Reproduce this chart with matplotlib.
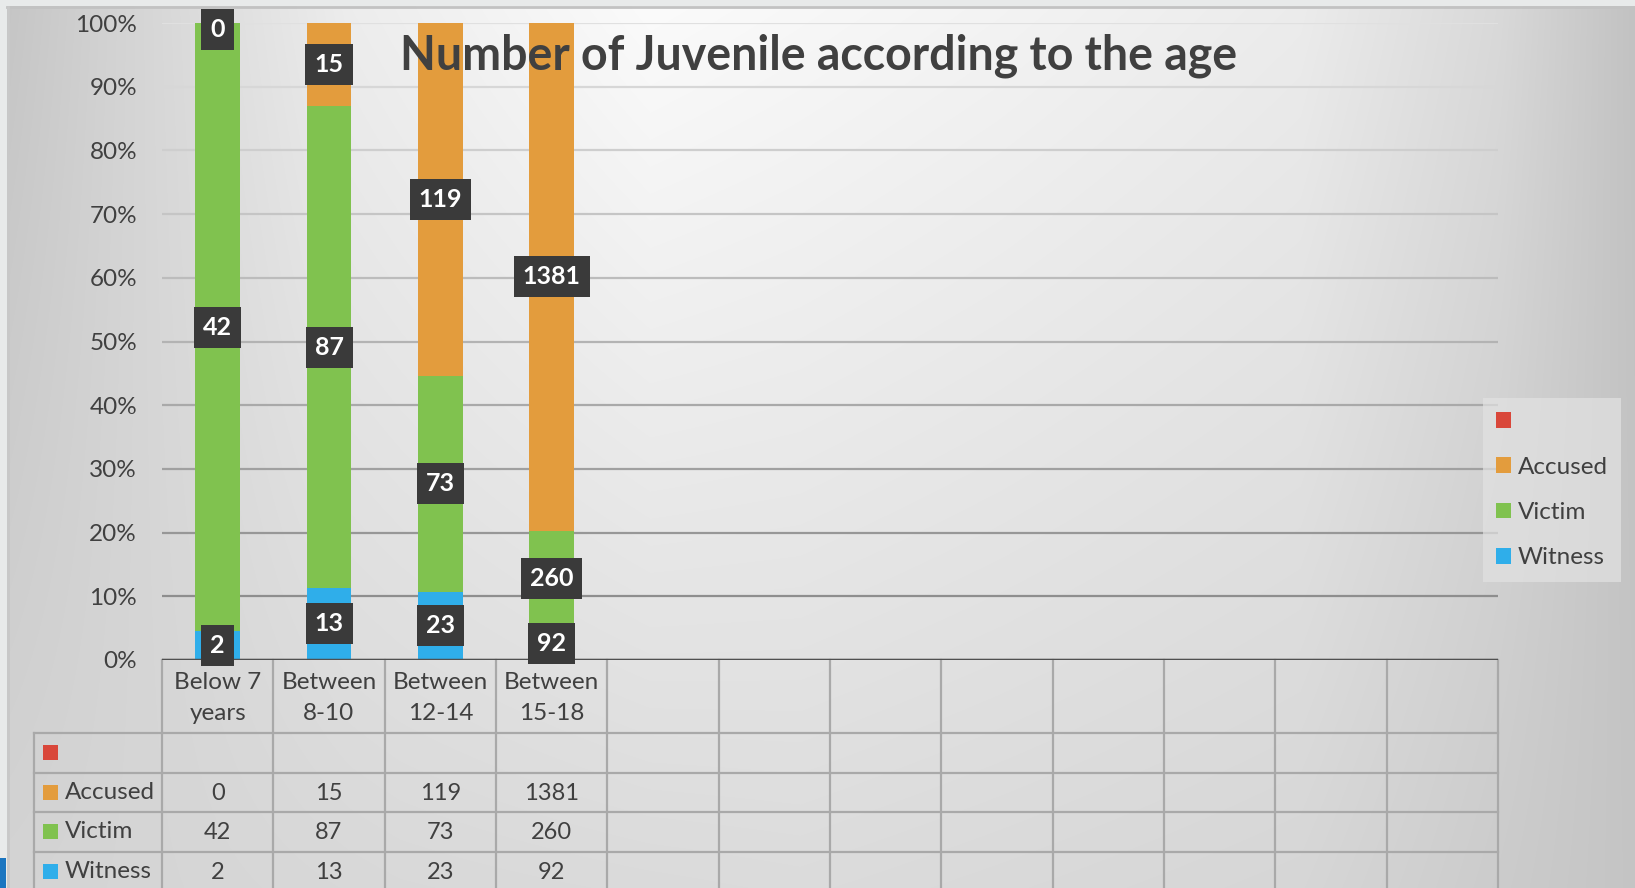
import numpy as np
import matplotlib.pyplot as plt
import matplotlib.transforms as mtransforms
from matplotlib.patches import Patch, Rectangle

plt.rcParams["font.family"] = ["Lato", "DejaVu Sans"]

# ---- data ----
title = "Number of Juvenile according to the age"
categories = ["Below 7\nyears", "Between\n8-10", "Between\n12-14", "Between\n15-18"]
n_slots = 12  # the chart keeps 12 category columns, only 4 are filled
series_names = ["", "Accused", "Victim", "Witness"]
unnamed = [None, None, None, None]  # red series, no values
accused = [0, 15, 119, 1381]
victim = [42, 87, 73, 260]
witness = [2, 13, 23, 92]
y_ticks = [0, 10, 20, 30, 40, 50, 60, 70, 80, 90, 100]

colors = ["#d9473a", "#e39c3d", "#80c24f", "#2faeea"]
series_values = [unnamed, accused, victim, witness]
text_color = "#404040"

W, H = 1635, 888
fig = plt.figure(figsize=(W / 100, H / 100), dpi=100)

# ---- background gradient ----
bg = fig.add_axes([0, 0, 1, 1], zorder=0)
bg.set_xlim(0, W)
bg.set_ylim(H, 0)
bg.axis("off")
xs = np.arange(W)
top_row = np.interp(xs, [0, 100, 350, 650, 1000, 1300, 1500, 1635],
                    [0.77, 0.82, 0.93, 0.985, 0.955, 0.925, 0.85, 0.76])
bot_row = np.interp(xs, [0, 400, 800, 1300, 1635], [0.83, 0.85, 0.86, 0.84, 0.77])
t = (np.arange(H) / H)[:, None]
shade = top_row[None, :] * (1 - t) + bot_row[None, :] * t
img = np.dstack([shade, shade, shade])
img[:7, :, :] = [0.91, 0.92, 0.92]
img[:, :7, :] = [0.91, 0.92, 0.92]
bg.imshow(img, extent=(0, W, H, 0), aspect="auto", interpolation="bilinear")
bg.plot([7, W], [7.5, 7.5], color="#c2c2c2", lw=2)
bg.plot([7.5, 7.5], [7, H], color="#c8c8c8", lw=2)
bg.add_patch(Rectangle((0, 858), 6, 30, facecolor="#1a75c0", edgecolor="none"))

# ---- main chart ----
ax_left, ax_top, ax_w, ax_h = 162, 23, 1336, 637
ax = fig.add_axes([ax_left / W, 1 - (ax_top + ax_h) / H, ax_w / W, ax_h / H], zorder=2)
ax.patch.set_alpha(0)
ax.set_xlim(-0.5, n_slots - 0.5)
ax.set_ylim(0, 1)
for s in ax.spines.values():
    s.set_visible(False)

for tick in y_ticks:
    f = tick / 100
    c = np.array([0.52, 0.52, 0.52]) * (1 - f) + np.array([0.88, 0.88, 0.88]) * f
    ax.axhline(f, color=c, lw=1.6, zorder=0)
ax.axhline(0, color="#505050", lw=2.5, zorder=3)

ax.set_xticks([])
ax.set_yticks([v / 100 for v in y_ticks], labels=[f"{v}%" for v in y_ticks])
ax.tick_params(axis="y", length=0, pad=18, labelsize=17.5, labelcolor=text_color)

totals = np.array(accused) + np.array(victim) + np.array(witness)
xpos = np.arange(len(categories))
bottom = np.zeros(len(categories))
label_box = dict(facecolor="#3a3a3a", edgecolor="none", boxstyle="square,pad=0.36")
for name, vals, col in reversed(list(zip(series_names, series_values, colors))):
    if vals[0] is None:
        continue
    share = np.array(vals) / totals
    ax.bar(xpos, share, 0.4, bottom=bottom, color=col, zorder=2)
    for i, v in enumerate(vals):
        yc = bottom[i] + share[i] / 2
        off = -5 if share[i] == 0 else 0
        ax.annotate(str(v), (i, yc), xytext=(0, off), textcoords="offset points",
                    ha="center", va="center", fontsize=18, fontweight="bold",
                    color="white", bbox=label_box, zorder=4)
    bottom += share

# ---- data table under the chart ----
tb = fig.add_axes([0, 0, 1, 1], zorder=1)
tb.patch.set_alpha(0)
tb.set_xlim(0, W)
tb.set_ylim(H, 0)
tb.axis("off")
mix = mtransforms.blended_transform_factory(ax.transData, tb.transData)

grid_c = "#a9a9a9"
table_left = 34
row_lines = [733, 773, 812, 852]
row_h = 39.5
for y in row_lines:
    tb.plot([table_left, ax_left + ax_w], [y, y], color=grid_c, lw=1.6)
for k in range(n_slots + 1):
    tb.plot([k - 0.5, k - 0.5], [ax_top + ax_h, H], color=grid_c, lw=1.6, transform=mix)
tb.plot([table_left, table_left], [row_lines[0], H], color=grid_c, lw=1.6)

for i, cat in enumerate(categories):
    tb.text(i, 698, cat, transform=mix, ha="center", va="center", fontsize=17.5,
            color=text_color, linespacing=1.6)

for r, (name, vals, col) in enumerate(zip(series_names, series_values, colors)):
    yc = row_lines[r] + row_h / 2
    tb.add_patch(Rectangle((43, yc - 7.5), 15, 15, facecolor=col, edgecolor="none"))
    tb.text(65, yc, name, ha="left", va="center", fontsize=17.5, color=text_color)
    for i, v in enumerate(vals):
        if v is None:
            continue
        tb.text(i, yc + 1, str(v), transform=mix, ha="center", va="center",
                fontsize=17, color=text_color)

# ---- legend ----
handles = [Patch(facecolor=c, edgecolor="none") for c in colors]
leg = fig.legend(handles, series_names, loc="upper left",
                 bbox_to_anchor=(1483 / W, 1 - 398 / H), frameon=True,
                 facecolor="#e2e2e2", edgecolor="none", framealpha=0.7,
                 fancybox=False, fontsize=17.5, handlelength=0.62,
                 handleheight=0.62, handletextpad=0.25, labelspacing=1.0,
                 borderpad=0.55, borderaxespad=0)
for txt in leg.get_texts():
    txt.set_color(text_color)

fig.text(819 / W, 1 - 56 / H, title, ha="center", va="center", fontsize=33.5,
         fontweight="bold", color=text_color, zorder=5)

fig.savefig("out.png", dpi=100)
